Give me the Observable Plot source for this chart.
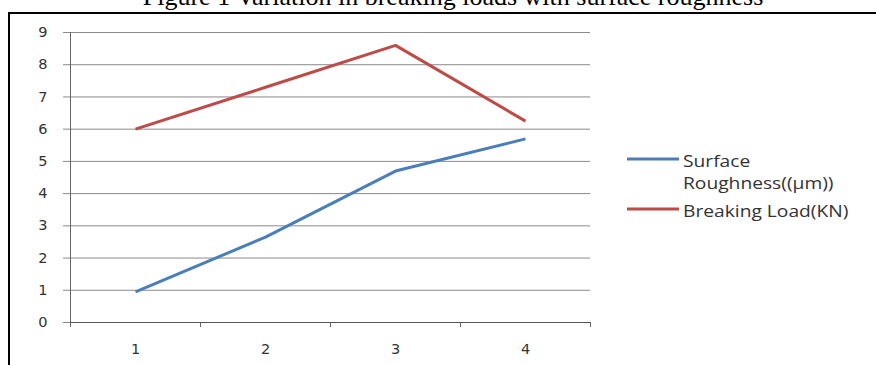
<!DOCTYPE html>
<html>
<head>
<meta charset="utf-8">
<script src="https://cdn.jsdelivr.net/npm/d3@7"></script>
<script src="https://cdn.jsdelivr.net/npm/@observablehq/plot@0.6"></script>
<style>
  html, body { margin: 0; padding: 0; background: #fff; }
  #wrap { position: relative; width: 876px; height: 365px; overflow: hidden; background: #fff; }
  #title { position: absolute; left: 15px; width: 876px; top: -18px; text-align: center; line-height: 30px;
           font-family: "Liberation Serif", "Times New Roman", serif; font-size: 26px; color: #000; white-space: nowrap; }
  #frame { position: absolute; left: 8px; top: 12px; width: 880px; height: 400px;
           border-left: 2px solid #000; border-top: 2px solid #000; }
  #chart { position: absolute; left: 0; top: 0; }
  #legend { position: absolute; left: 627px; top: 148px; font-family: "Open Sans", sans-serif;
            font-size: 16px; color: #333; }
  .item { display: flex; align-items: flex-start; margin-bottom: 4px; }
  .item svg { flex: none; margin-top: 3px; }
  .item .txt { margin-left: 4px; margin-top: 2px; transform: scaleX(1.2); transform-origin: left top; }
  .item .txt div { line-height: 22px; white-space: nowrap; }
</style>
</head>
<body>
<div id="wrap">
  <div id="title"></div>
  <div id="frame"></div>
  <div id="chart"></div>
  <div id="legend"></div>
</div>
<script>
const titleText = "Figure 1 Variation in breaking loads with surface roughness";
const categories = [1, 2, 3, 4];
const xBoundaries = [0.5, 1.5, 2.5, 3.5, 4.5];
const yTicks = [0, 1, 2, 3, 4, 5, 6, 7, 8, 9];
const surfaceRoughness = [0.95, 2.65, 4.7, 5.7];
const breakingLoad = [6.0, 7.3, 8.6, 6.25];
const seriesNames = ["Surface Roughness((\u00b5m))", "Breaking Load(KN)"];
const seriesColors = ["#4a7ebb", "#be4b48"];

const data = [];
categories.forEach((c, i) => {
  data.push({x: c, y: surfaceRoughness[i], s: seriesNames[0]});
  data.push({x: c, y: breakingLoad[i], s: seriesNames[1]});
});

document.getElementById("title").textContent = titleText;

const plot = Plot.plot({
  width: 876,
  height: 365,
  marginLeft: 70,
  marginRight: 286,
  marginTop: 32,
  marginBottom: 43,
  style: {fontFamily: "DejaVu Sans, Verdana, sans-serif", fontSize: "14.5px", color: "#333", background: "transparent"},
  x: {type: "linear", domain: [0.5, 4.5]},
  y: {domain: [0, 9]},
  color: {domain: seriesNames, range: seriesColors},
  marks: [
    Plot.ruleY(yTicks, {stroke: "#8a8a8a", strokeWidth: 1, strokeOpacity: 1}),
    Plot.axisY({ticks: yTicks, tickSize: 7, tickPadding: 16, label: null, tickFormat: d => d, stroke: "#8a8a8a", strokeOpacity: 1}),
    Plot.axisX({ticks: xBoundaries, tickSize: 5, tickFormat: () => "", label: null, stroke: "#666", strokeOpacity: 1}),
    Plot.axisX({ticks: categories, tickSize: 0, tickPadding: 21, tickFormat: d => d, label: null}),
    Plot.ruleX([0.5], {stroke: "#666", strokeWidth: 1}),
    Plot.ruleY([0], {stroke: "#555", strokeWidth: 1}),
    Plot.line(data, {x: "x", y: "y", z: "s", stroke: "s", strokeWidth: 3, strokeLinejoin: "round", strokeLinecap: "butt"})
  ]
});
document.getElementById("chart").appendChild(plot);

const legend = document.getElementById("legend");
const legendLabels = [["Surface", "Roughness((\u00b5m))"], ["Breaking Load(KN)"]];
seriesNames.forEach((name, i) => {
  const item = document.createElement("div");
  item.className = "item";
  const lines = legendLabels[i].map(t => `<div>${t}</div>`).join("");
  item.innerHTML = `<svg width="52" height="16"><line x1="0" x2="52" y1="8" y2="8" stroke="${seriesColors[i]}" stroke-width="3"/></svg><div class="txt">${lines}</div>`;
  legend.appendChild(item);
});
</script>
</body>
</html>
